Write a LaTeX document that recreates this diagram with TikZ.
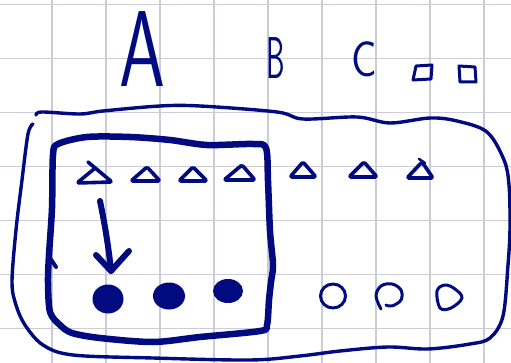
\documentclass[tikz,border=0pt]{standalone}
\usetikzlibrary{calc}
\definecolor{ink}{RGB}{2,10,128}
\definecolor{gridc}{RGB}{204,204,217}
\tikzset{
  pen/.style={draw=ink, line width=3.4pt, line cap=round, line join=round},
  thickpen/.style={draw=ink, line width=6.5pt, line cap=round, line join=round},
  arrowpen/.style={draw=ink, line width=6pt, line cap=round, line join=round},
  gridline/.style={draw=gridc, line width=1.3pt},
  letter/.style={text=ink, inner sep=0pt, anchor=base},
  tri/.style={pen, line width=3.6pt, rounded corners=1.5pt},
  blob/.style={fill=ink},
}
\begin{document}
\begin{tikzpicture}[x=1pt,y=-1pt]
\useasboundingbox (0,0) rectangle (511,363);
\fill[white] (0,0) rectangle (511,363);
% grid
\foreach \gx in {-2,52,106,160,214,268,322,376,430,484} {\draw[gridline] (\gx,0) -- (\gx,363);}
\foreach \gy in {4.5,58.5,112.5,166.5,220.5,274.5,328.5} {\draw[gridline] (0,\gy) -- (511,\gy);}
% letters
\node[letter, font=\sffamily\fontsize{108}{108}\selectfont, xscale=0.68] (A) at (142.5,87) {A};
\node[letter, font=\sffamily\fontsize{59}{59}\selectfont, xscale=0.5] (B) at (276,79) {B};
\node[letter, font=\sffamily\fontsize{50}{50}\selectfont, xscale=0.85] (C) at (364,77) {C};
% small squares
\draw[pen, line width=3pt] (416,66) -- (432,65) -- (431,79) -- (413,80) -- cycle;
\draw[pen, line width=3pt] (459,66) -- (475,67) -- (476,82) -- (460,82) -- cycle;
% outer boundary
\draw[pen] plot[smooth, tension=0.55] coordinates {(33,124) (28,134) (22,180) (16,230) (12,282) (16,305) (25,325) (43,345) (73,355) (153,358) (250,360) (300,356) (340,351) (388,347) (428,349) (470,344) (490,338) (503,316) (508,265) (510,228) (509,185) (504,160) (487,132) (457,121) (430,118) (390,123) (357,117) (303,119) (277,112) (200,106) (160,106) (103,111) (80,114) (42,112) (36,115)};
% inner box
\draw[thickpen] plot[smooth cycle, tension=0.5] coordinates {(53,155) (58,144) (87,137) (130,137) (170,140) (207,145) (253,144) (266,148) (268,181) (270,231) (273,265) (271,282) (269,300) (267,325) (260,331) (200,337) (153,342) (100,338) (72,333) (60,325) (50,312) (48,282) (49,255) (52,208)};
\draw[thickpen, line width=4pt] (50,258) -- (56,267);
% triangles
\draw[tri] (88,162) -- (112,182) -- (77,183) -- (94,169);
\draw[tri] (147,167) -- (160,181) -- (131,181) -- cycle;
\draw[tri] (193,167) -- (207,181) -- (179,181) -- cycle;
\draw[tri] (242,165) -- (255,180) -- (224,180) -- cycle;
\draw[tri] (303,162) -- (316,177) -- (290,177) -- cycle;
\draw[tri] (364,162) -- (377,177) -- (349,177) -- cycle;
\draw[tri] (422,162) -- (433,178) -- (407,178) -- cycle;
\draw[pen, line width=2.5pt] (419,159) -- (425,163);
% arrow
\coordinate (arrowstart) at (100,201);
\coordinate (arrowtip) at (111,271);
\draw[arrowpen] (arrowstart) .. controls (105,225) and (109,250) .. (arrowtip);
\draw[arrowpen] (96,255) -- (arrowtip) -- (129,251);
% filled dots
\fill[blob] (108,299) ellipse [x radius=15.5, y radius=14.5];
\fill[blob] (169,296) ellipse [x radius=16, y radius=13.5];
\fill[blob] (228,291) ellipse [x radius=15, y radius=12];
% open circles
\draw[pen, line width=3pt] (333,296) ellipse [x radius=12.5, y radius=12];
\draw[pen, line width=3pt] plot[smooth, tension=0.6] coordinates {(381,309) (376,296) (381,286) (392,284) (401,290) (401,300) (392,306) (386,305)};
\draw[pen, line width=3pt] plot[smooth cycle, tension=0.6] coordinates {(437,291) (445,285) (455,289) (462,298) (451,308) (440,308)};
\end{tikzpicture}
\end{document}
